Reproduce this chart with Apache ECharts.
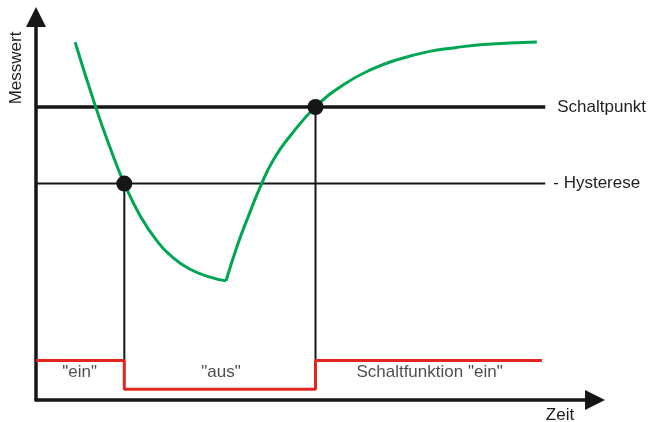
<!DOCTYPE html>
<html>
<head>
<meta charset="utf-8">
<script src="https://cdn.jsdelivr.net/npm/echarts@6/dist/echarts.min.js"></script>
<style>
  html, body { margin: 0; padding: 0; background: #fff; }
  #chart { width: 651px; height: 422px; }
</style>
</head>
<body>
<div id="chart"></div>
<script>
// Achsen (Zeit / Messwert), beide 0..100
const timeMax = 100
const valueMax = 100

// Schwellen
const schaltpunkt = 76.5
const hysterese = 56.5
const thresholdEnd = 91.1

// Schaltzeitpunkte und Schaltfunktion
const switchOff = 15.8
const switchOn = 50
const outHigh = 10.3
const outLow = 2.8
const outEnd = 90.5

// Messwertverlauf: fallender und steigender Ast
const fallingCurve = [
  [7.0, 93.4], [10.7, 76.4], [13.2, 66.1], [15.8, 56.5], [18.6, 48.2],
  [21.5, 41.8], [24.5, 37.2], [27.5, 34.2], [30.8, 32.2], [34.0, 31.1]
]
const risingCurve = [
  [34.0, 31.1], [36.0, 40.3], [38.0, 48.0], [40.1, 55.6], [42.5, 62.8],
  [45.5, 69.0], [50.0, 76.5], [55.0, 82.3], [60.0, 86.3], [65.0, 89.0],
  [70.0, 90.9], [75.0, 92.0], [80.0, 92.8], [89.6, 93.5]
]

// Beschriftung der Schaltzustände
const stateLabels = ['"ein"', '"aus"', 'Schaltfunktion "ein"']
const stateLabelX = [7.8, 33.1, 70.4]
const stateLabelY = 7.2

const FONT = '"Liberation Sans", Arial, sans-serif'
const BLACK = '#161616'
const GREEN = '#00a651'
const RED = '#e2261d'

const chart = echarts.init(document.getElementById('chart'))

function hLine(y, width, label, dist) {
  return {
    type: 'line',
    data: [[0, y], [thresholdEnd, y]],
    symbol: 'none',
    lineStyle: { color: BLACK, width: width },
    z: 2,
    endLabel: {
      show: true,
      formatter: label,
      distance: dist,
      color: '#1e1e1e',
      fontFamily: FONT,
      fontSize: 17
    }
  }
}

function vLine(x, yTop) {
  return {
    type: 'line',
    data: [[x, yTop], [x, outHigh]],
    symbol: 'none',
    lineStyle: { color: BLACK, width: 2 },
    z: 2
  }
}

function curve(data) {
  return {
    type: 'line',
    data: data,
    smooth: 0.5,
    symbol: 'none',
    lineStyle: { color: GREEN, width: 3 },
    z: 4
  }
}

const option = {
  animation: false,
  grid: { left: 36, right: 56, top: 17, bottom: 22 },
  xAxis: {
    type: 'value',
    min: 0,
    max: timeMax,
    splitLine: { show: false },
    axisTick: { show: false },
    axisLabel: { show: false },
    axisLine: {
      onZero: false,
      lineStyle: { color: BLACK, width: 3.5 },
      symbol: ['none', 'triangle'],
      symbolSize: [20, 20]
    }
  },
  yAxis: {
    type: 'value',
    min: 0,
    max: valueMax,
    splitLine: { show: false },
    axisTick: { show: false },
    axisLabel: { show: false },
    axisLine: {
      show: true,
      onZero: false,
      lineStyle: { color: BLACK, width: 3.5 },
      symbol: ['none', 'triangle'],
      symbolSize: [20, 20]
    }
  },
  graphic: [
    {
      type: 'text',
      x: 16,
      y: 68,
      rotation: Math.PI / 2,
      style: {
        text: 'Messwert',
        fill: '#1e1e1e',
        font: '17px ' + FONT,
        align: 'center',
        verticalAlign: 'middle'
      }
    },
    {
      type: 'text',
      x: 560,
      y: 415,
      style: {
        text: 'Zeit',
        fill: '#1e1e1e',
        font: '17px ' + FONT,
        align: 'center',
        verticalAlign: 'middle'
      }
    }
  ],
  series: [
    hLine(schaltpunkt, 3.5, 'Schaltpunkt', 12),
    hLine(hysterese, 2, '- Hysterese', 8),
    vLine(switchOff, hysterese),
    vLine(switchOn, schaltpunkt),
    {
      type: 'line',
      data: [
        [0, outHigh], [switchOff, outHigh], [switchOff, outLow],
        [switchOn, outLow], [switchOn, outHigh], [outEnd, outHigh]
      ],
      symbol: 'none',
      lineStyle: { color: RED, width: 3 },
      z: 3
    },
    curve(fallingCurve),
    curve(risingCurve),
    {
      type: 'scatter',
      data: [[switchOff, hysterese], [switchOn, schaltpunkt]],
      symbolSize: 16,
      itemStyle: { color: BLACK, opacity: 1 },
      z: 6
    },
    {
      type: 'scatter',
      data: stateLabelX.map((x, i) => ({ value: [x, stateLabelY], name: stateLabels[i] })),
      symbolSize: 1,
      itemStyle: { color: 'rgba(0,0,0,0)' },
      label: {
        show: true,
        position: 'inside',
        formatter: '{b}',
        color: '#1e1e1e',
        fontFamily: FONT,
        fontSize: 17
      },
      z: 5
    }
  ]
}

chart.setOption(option)
</script>
</body>
</html>
